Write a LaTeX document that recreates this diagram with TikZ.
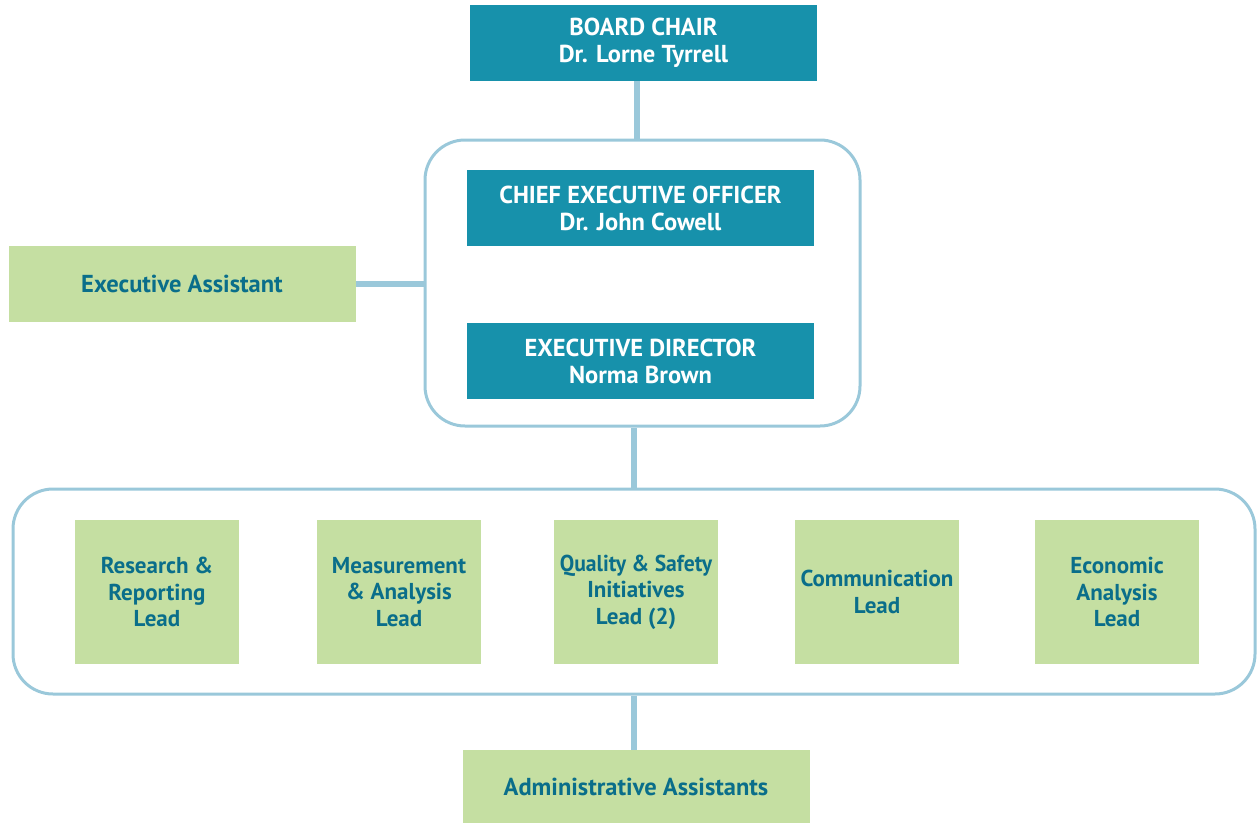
\documentclass[tikz,border=0pt]{standalone}
\usepackage{fontspec}
\setmainfont{PT Sans}
\definecolor{orgteal}{HTML}{1791AB}
\definecolor{orggreen}{HTML}{C5DFA2}
\definecolor{orgline}{HTML}{9AC8DA}
\definecolor{orgtext}{HTML}{0A6E8A}
\tikzset{
  headbox/.style={fill=orgteal, text=white, inner sep=0pt, align=center,
    minimum width=347pt, minimum height=76pt,
    font=\fontsize{24.5}{27}\selectfont\bfseries},
  staffbox/.style={fill=orggreen, text=orgtext, inner sep=0pt, align=center,
    minimum width=347pt, minimum height=76pt,
    font=\fontsize{24.5}{27}\selectfont\bfseries},
  leadbox/.style={staffbox, minimum width=164pt, minimum height=144pt,
    font=\fontsize{23}{26.5}\selectfont\bfseries},
  frame/.style={draw=orgline, line width=3pt, rounded corners=40pt, inner sep=0pt},
  link/.style={draw=orgline, line width=6pt}
}
\begin{document}
\begin{tikzpicture}[x=1pt,y=-1pt]
\useasboundingbox (0,0) rectangle (1257,824);

% Grouping frames
\node[frame, minimum width=435pt, minimum height=286pt] (upper) at (642.5,283) {};
\node[frame, minimum width=1242pt, minimum height=205pt] (lower) at (634,591.5) {};

% Top of the chart
\node[headbox] (board) at (643.5,43) {BOARD CHAIR\\Dr. Lorne Tyrrell};
\node[headbox] (ceo) at (640.5,208) {CHIEF EXECUTIVE OFFICER\\Dr. John Cowell};
\node[headbox] (exdir) at (640.5,361) {EXECUTIVE DIRECTOR\\Norma Brown};
\node[staffbox] (exasst) at (182,284) {Executive Assistant};

% Leads
\node[leadbox] (research) at (157,592) {Research \&\\Reporting\\Lead};
\node[leadbox] (measure) at (399,592) {Measurement\\\& Analysis\\Lead};
\node[leadbox] (quality) at (636,592) {\scalebox{0.94}[1]{Quality \& Safety}\\Initiatives\\Lead (2)};
\node[leadbox] (comms) at (877,592) {Communication\\Lead};
\node[leadbox] (econ) at (1117,592) {Economic\\Analysis\\Lead};

\node[staffbox, minimum height=73pt] (admin) at (636,786.5) {Administrative Assistants};

% Connectors
\draw[link] (board.south -| 637,0) -- (upper.north -| 637,0);
\draw[link] (exasst.east) -- (exasst.east -| upper.west);
\draw[link] (lower.north -| 634,0) -- (upper.south -| 634,0);
\draw[link] (lower.south -| 634,0) -- (admin.north -| 634,0);

\end{tikzpicture}
\end{document}
